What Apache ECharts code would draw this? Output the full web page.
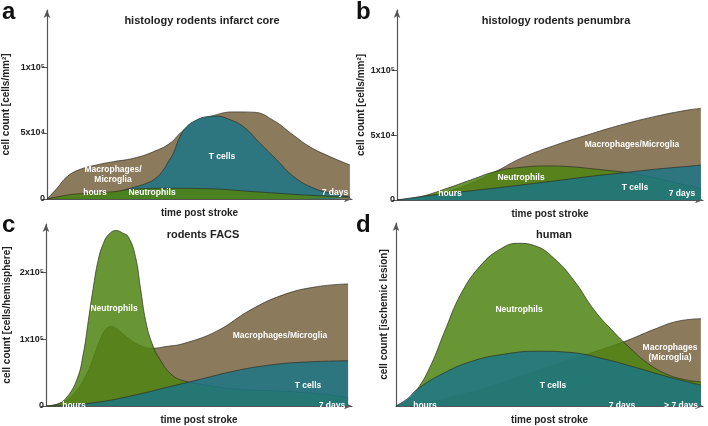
<!DOCTYPE html>
<html>
<head>
<meta charset="utf-8">
<script src="https://cdn.jsdelivr.net/npm/echarts@6/dist/echarts.min.js"></script>
<style>
  html, body { margin: 0; padding: 0; background: #fff; }
  #chart { width: 708px; height: 426px; }
</style>
</head>
<body>
<div id="chart"></div>
<script>
// time axis runs 0..100 (hours .. 7 days)

// a: histology rodents infarct core (cells/mm2)
const coreMacrophages = [[0,0],[3.3,8100],[6.6,16900],[11,22500],[16.4,25800],[21.9,28300],[28.5,30800],[35.1,35800],[40.6,42200],[43.9,49700],[48.5,58000],[53.9,62500],[61.6,66000],[68.2,65750],[74.8,59500],[81.4,48250],[86.8,39500],[92.3,33250],[100,25750]]
const coreTcells = [[0,0],[12,1500],[20,3500],[27.4,8100],[32.9,11900],[36,16000],[38.4,22000],[40,28000],[41.7,34600],[43.9,47200],[46.1,54800],[49.3,59800],[52.6,62300],[56,62800],[60,60500],[65,54500],[70.4,42000],[75.9,29500],[81.4,17000],[88,8250],[94.5,4000],[100,1500]]
const coreNeutrophils = [[0,0],[6.8,3000],[11,4000],[21.9,5500],[27.4,7300],[38.4,8100],[52.9,7800],[67,5750],[83.5,3250],[100,1250]]

// b: histology rodents penumbra (cells/mm2)
const penMacrophages = [[0,0],[7.7,2000],[16.5,6400],[24.2,12800],[33,22500],[40.7,32000],[51.6,41800],[62.6,50000],[73.6,57700],[84.6,64100],[95.6,69200],[100,70500]]
const penNeutrophils = [[0,0],[7.7,2560],[16.5,9000],[24.2,15400],[33,22300],[40.7,25100],[49.5,26200],[57.1,25600],[65.9,23600],[75.8,21000],[84.6,17200],[93.4,12300],[100,9000]]
const penTcells = [[0,0],[7.7,2560],[18.7,5640],[29.7,8460],[40.7,11500],[51.6,14600],[62.6,17900],[75.8,21300],[84.6,23600],[95.6,25900],[100,26900]]

// c: rodents FACS (cells/hemisphere)
const facsMacrophages = [[0,0],[4.4,3900],[8.8,16400],[13.2,45400],[16.6,84000],[18.5,105000],[20,115500],[21.5,119000],[23,117000],[25.4,108000],[30.9,91000],[35.3,86500],[39.7,89000],[45.5,93500],[56.5,112000],[67.5,143300],[78.5,166400],[89.5,178500],[100,182800]]
const facsNeutrophils = [[0,0],[3.3,1900],[6.6,11600],[10.3,40600],[12.4,79700],[14,127500],[15.6,175800],[17.3,219000],[19,243500],[20.8,257000],[23.2,262800],[25.4,259000],[27.3,253000],[29.6,224000],[31.3,175800],[33,127500],[35.1,93800],[37.7,69600],[42,45400],[47,36000],[51,32700],[62,25500],[73,23100],[84,20700],[95,15900],[100,12500]]
const facsTcells = [[0,0],[6.9,1000],[18,6250],[29,15900],[40,27900],[51,39900],[62,52000],[73,60600],[84,65400],[100,67800]]

// d: human (arbitrary units)
const humanMacrophages = [[0,0],[8.2,8],[19.1,30],[30,58],[41,93],[52,128],[62.8,161],[74.9,200],[84.7,238],[92.3,263],[100,271]]
const humanNeutrophils = [[0,0],[3.8,18],[7.1,53],[11.5,128],[15.8,228],[21.3,348],[27.9,438],[34.4,488],[39.9,505],[45.4,498],[51.9,458],[58.5,388],[65,298],[71.6,228],[77,178],[82.5,133],[89,98],[95.6,80],[100,75]]
const humanTcells = [[0,0],[3.8,23],[7.1,53],[14.8,98],[24.6,138],[35.5,161],[46.4,170],[57.4,166],[68.3,146],[79.2,118],[90.2,88],[100,65]]

const panelTitles = ['histology rodents infarct core', 'histology rodents penumbra', 'rodents FACS', 'human']
const panelLetters = ['a', 'b', 'c', 'd']
const yNames = ['cell count [cells/mm²]', 'cell count [cells/mm²]', 'cell count [cells/hemisphere]', 'cell count [ischemic lesion]']
const yTicks = [[0, 50000, 100000], [0, 50000, 100000], [0, 100000, 200000], []]
const yTickText = { 0: '0', 50000: '5x10⁴', 100000: '1x10⁵', 200000: '2x10⁵' }

const BROWN = '#8b7a5c'
const GREEN = '#4f8410'
const TEAL = '#1a7588'
const FONT = 'Liberation Sans'

const grids = [
  { left: 46, top: 10, width: 306, height: 189 },
  { left: 397, top: 10, width: 306, height: 190 },
  { left: 46, top: 224, width: 306, height: 188 },
  { left: 396, top: 223, width: 307, height: 189 }
]
const xMax = [100.7, 100.7, 101.3, 100.7]
const yMax = [143200, 146200, 272500, 568]
const yNameGap = [36, 30, 34, 7]

function area(name, data, gi, color, opacity, z) {
  return {
    type: 'line',
    name: name,
    data: data,
    xAxisIndex: gi,
    yAxisIndex: gi,
    smooth: 0.45,
    symbol: 'none',
    silent: true,
    z: z,
    lineStyle: { color: '#2e2e24', width: 0.7 },
    areaStyle: { color: color, opacity: opacity }
  }
}

function label(text, x, y) {
  return {
    type: 'text', x: x, y: y, z: 100,
    style: { text: text, fill: '#fff', font: 'bold 8.5px "' + FONT + '"', align: 'center', verticalAlign: 'middle', lineHeight: 10 }
  }
}

const chart = echarts.init(document.getElementById('chart'))

const option = {
  animation: false,
  backgroundColor: '#fff',
  textStyle: { fontFamily: FONT },
  grid: grids,
  xAxis: grids.map((g, i) => ({
    type: 'value',
    gridIndex: i,
    min: 0,
    max: xMax[i],
    name: 'time post stroke',
    nameLocation: 'middle',
    nameGap: 9,
    nameTextStyle: { fontWeight: 'bold', fontSize: 10, color: '#222' },
    axisLine: { onZero: false, symbol: ['none', 'arrow'], symbolSize: [5, 8], lineStyle: { color: '#555', width: 1.2 } },
    axisTick: { show: false },
    axisLabel: { show: false },
    splitLine: { show: false }
  })),
  yAxis: grids.map((g, i) => ({
    type: 'value',
    gridIndex: i,
    min: 0,
    max: yMax[i],
    name: yNames[i],
    nameLocation: 'middle',
    nameRotate: 90,
    nameGap: yNameGap[i],
    nameTextStyle: { fontWeight: 'bold', fontSize: 10, color: '#222' },
    axisLine: { show: true, symbol: ['none', 'arrow'], symbolSize: [5, 8], lineStyle: { color: '#555', width: 1.2 } },
    axisTick: { show: yTicks[i].length > 0, customValues: yTicks[i], length: 5, lineStyle: { color: '#555' } },
    axisLabel: {
      show: yTicks[i].length > 0,
      customValues: yTicks[i],
      margin: 2,
      fontSize: 9,
      fontWeight: 'bold',
      color: '#222',
      formatter: v => yTickText[v] || ''
    },
    splitLine: { show: false }
  })),
  title: panelTitles.map((t, i) => ({
    text: t,
    left: [197, 551, 198, 549][i],
    top: [10, 10, 224, 224][i],
    textAlign: 'center',
    textStyle: { fontSize: 11, fontWeight: 'bold', color: '#222', fontFamily: FONT }
  })),
  series: [
    area('Macrophages/Microglia', coreMacrophages, 0, BROWN, 1, 1),
    area('T cells', coreTcells, 0, TEAL, 0.82, 2),
    area('Neutrophils', coreNeutrophils, 0, GREEN, 0.85, 3),

    area('Macrophages/Microglia', penMacrophages, 1, BROWN, 1, 1),
    area('Neutrophils', penNeutrophils, 1, GREEN, 0.85, 2),
    area('T cells', penTcells, 1, TEAL, 0.82, 3),

    area('Macrophages/Microglia', facsMacrophages, 2, BROWN, 1, 1),
    area('Neutrophils', facsNeutrophils, 2, GREEN, 0.85, 2),
    area('T cells', facsTcells, 2, TEAL, 0.82, 3),

    area('Macrophages (Microglia)', humanMacrophages, 3, BROWN, 1, 1),
    area('Neutrophils', humanNeutrophils, 3, GREEN, 0.85, 2),
    area('T cells', humanTcells, 3, TEAL, 0.82, 3)
  ],
  graphic: [
    ...panelLetters.map((l, i) => ({
      type: 'text', x: [2, 356, 2, 356][i], y: [0, 0, 213, 213][i], z: 100,
      style: { text: l, fill: '#111', font: 'bold 24px "' + FONT + '"' }
    })),
    label('Macrophages/\nMicroglia', 113, 175),
    label('T cells', 222, 157),
    label('hours', 95, 193),
    label('Neutrophils', 152, 193),
    label('7 days', 335, 193),

    label('Macrophages/Microglia', 632, 145),
    label('Neutrophils', 521, 178),
    label('T cells', 635, 188),
    label('hours', 450, 194),
    label('7 days', 682, 194),

    label('Neutrophils', 114, 309),
    label('Macrophages/Microglia', 280, 336),
    label('T cells', 308, 386),
    label('hours', 74, 406),
    label('7 days', 332, 406),

    label('Neutrophils', 519, 310),
    label('Macrophages\n(Microglia)', 670, 353),
    label('T cells', 553, 386),
    label('hours', 425, 406),
    label('7 days', 622, 406),
    label('> 7 days', 681, 406)
  ]
}

chart.setOption(option)
</script>
</body>
</html>
